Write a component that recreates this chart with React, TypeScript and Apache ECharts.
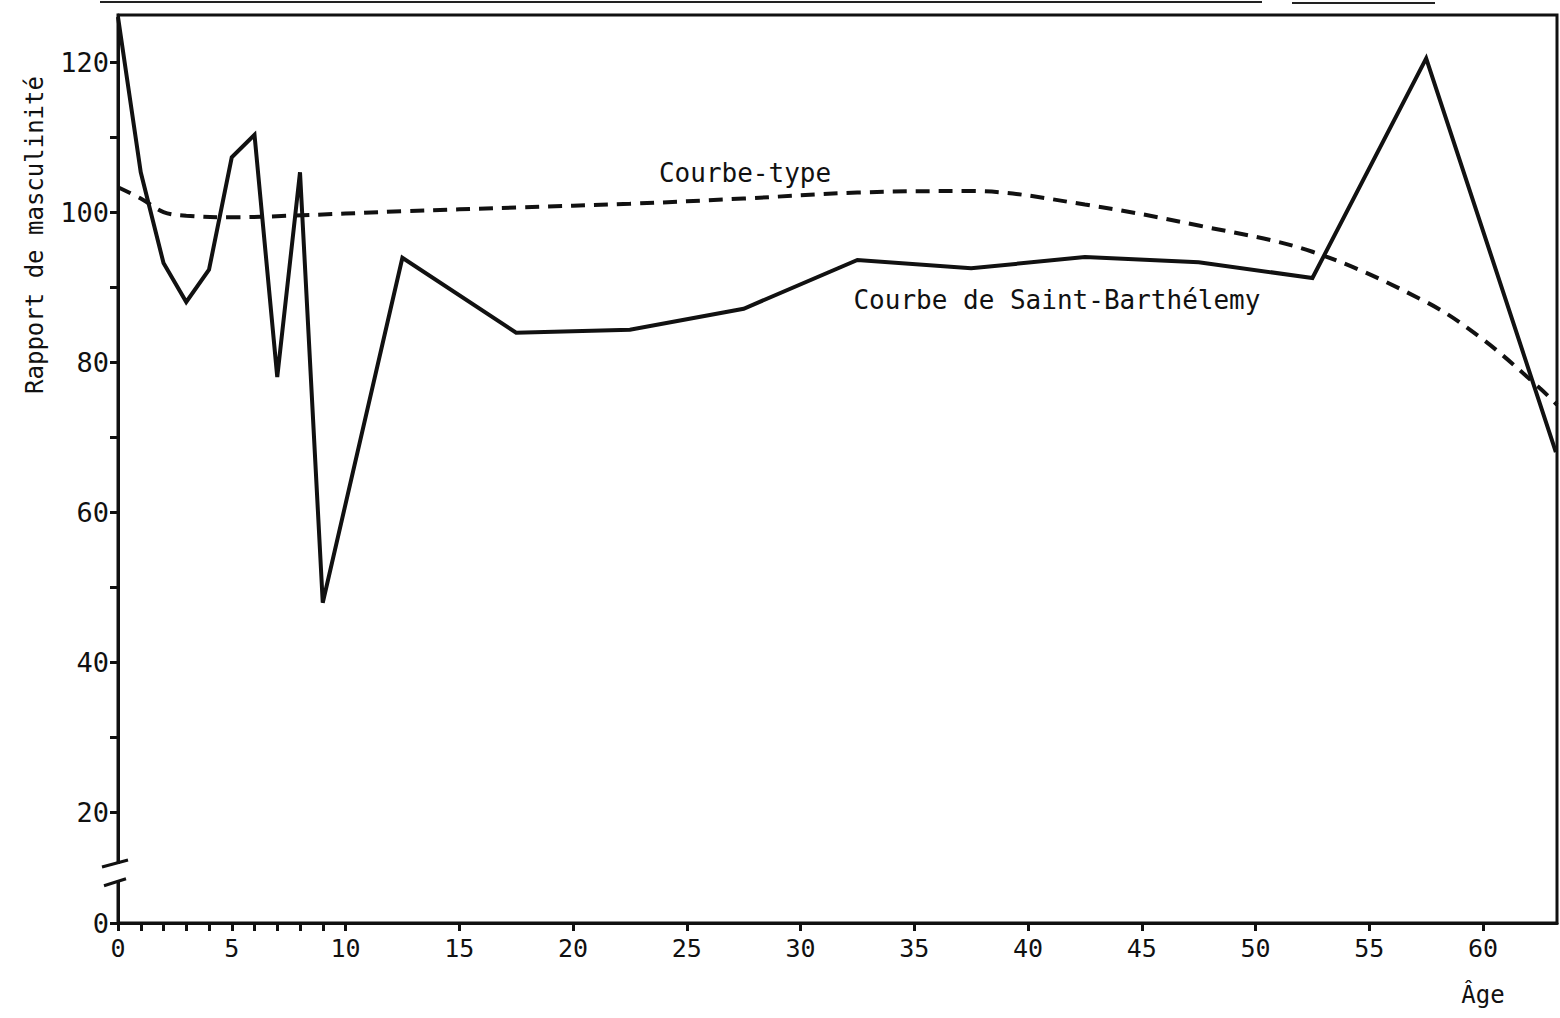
import React, { useEffect, useRef } from "react";
import * as echarts from "echarts";

// Courbe de Saint-Barthélemy (solid)
const stbAges = [0, 1, 2, 3, 4, 5, 6, 7, 8, 9, 12.5, 17.5, 22.5, 27.5, 32.5, 37.5, 42.5, 47.5, 52.5, 57.5, 63.2];
const stbValues = [126, 105.3, 93.2, 88, 92.3, 107.3, 110.3, 78, 105.3, 47.9, 93.9, 83.9, 84.3, 87.1, 93.6, 92.5, 94.0, 93.3, 91.2, 120.5, 68];

// Courbe-type (dashed)
const typeAges = [0, 1, 2, 3, 5, 7.5, 12.5, 17.5, 22.5, 27.5, 32.5, 37.5, 42.5, 47.5, 52.5, 57.5, 60, 62.5, 63.25];
const typeValues = [103.3, 101.8, 100.0, 99.5, 99.3, 99.5, 100.1, 100.6, 101.1, 101.8, 102.6, 102.8, 101.0, 98.2, 94.7, 88.0, 83.0, 76.5, 74.3];

// axes
const X_MIN = 0;
const X_MAX = 63.25;
const xTickValues = [0, 1, 2, 3, 4, 5, 6, 7, 8, 9, 10, 15, 20, 25, 30, 35, 40, 45, 50, 55, 60];
const xLabelValues = [0, 5, 10, 15, 20, 25, 30, 35, 40, 45, 50, 55, 60];

// y axis has a break between 0 and 20: the "0" position sits at Y_ZERO_POS
const Y_ZERO_POS = 5.2;
const Y_MAX = 126.27;
const yTickValues = [Y_ZERO_POS, 20, 30, 40, 50, 60, 70, 80, 90, 100, 110, 120];
const yLabelValues = [Y_ZERO_POS, 20, 40, 60, 80, 100, 120];
const BREAK_HIGH = 13.2;
const BREAK_LOW = 10.7;

// label anchors (data coordinates)
const typeLabelAt = [27.56, 105.2];
const stbLabelAt = [41.27, 88.27];

const FONT = "'DejaVu Sans Mono', monospace";

export default function App() {
  const ref = useRef<HTMLDivElement>(null);

  useEffect(() => {
    document.body.style.margin = "0";
    if (!ref.current) return;
    const chart = echarts.init(ref.current, null, { renderer: "svg" });
    const option: any = {
      animation: false,
      backgroundColor: "#ffffff",
      grid: {
        left: 118,
        top: 15,
        width: 1439,
        height: 908,
        show: true,
        borderColor: "#111",
        borderWidth: 3,
        backgroundColor: "transparent",
      },
      xAxis: {
        type: "value",
        min: X_MIN,
        max: X_MAX,
        splitLine: { show: false },
        axisLine: { show: true, onZero: false, lineStyle: { color: "#111", width: 3 } },
        axisTick: {
          show: true,
          length: 8,
          customValues: xTickValues,
          lineStyle: { color: "#111", width: 3 },
        },
        axisLabel: {
          customValues: xLabelValues,
          margin: 13,
          fontFamily: FONT,
          fontSize: 25,
          color: "#111",
          formatter: (v: number) => String(v),
        },
      },
      yAxis: {
        type: "value",
        min: Y_ZERO_POS,
        max: Y_MAX,
        splitLine: { show: false },
        axisLine: { show: true, lineStyle: { color: "#111", width: 3 } },
        axisTick: {
          show: true,
          length: 8,
          customValues: yTickValues,
          lineStyle: { color: "#111", width: 3 },
        },
        axisLabel: {
          customValues: yLabelValues,
          margin: 9,
          fontFamily: FONT,
          fontSize: 27,
          color: "#111",
          formatter: (v: number) => (v < 10 ? "0" : String(Math.round(v))),
        },
      },
      series: [
        {
          name: "Courbe-type",
          type: "line",
          data: typeAges.map((a, i) => [a, typeValues[i]]),
          smooth: 0.35,
          showSymbol: false,
          symbol: "none",
          lineStyle: { color: "#111", width: 4, type: [14, 9] },
          z: 2,
        },
        {
          name: "Courbe de Saint-Barthélemy",
          type: "line",
          data: stbAges.map((a, i) => [a, stbValues[i]]),
          showSymbol: false,
          symbol: "none",
          lineStyle: { color: "#111", width: 4, join: "miter" },
          z: 3,
        },
      ],
    };
    chart.setOption(option);

    const [axX, yHigh] = chart.convertToPixel({ gridIndex: 0 }, [0, BREAK_HIGH]);
    const [, yLow] = chart.convertToPixel({ gridIndex: 0 }, [0, BREAK_LOW]);
    const [xT, yT] = chart.convertToPixel({ gridIndex: 0 }, typeLabelAt);
    const [xS, yS] = chart.convertToPixel({ gridIndex: 0 }, stbLabelAt);

    chart.setOption({
      graphic: [
        {
          type: "rect",
          shape: { x: axX - 6, y: yHigh + 1, width: 12, height: yLow - yHigh - 2 },
          style: { fill: "#ffffff" },
          z: 100,
        },
        {
          type: "line",
          shape: { x1: axX - 16, y1: yHigh + 4, x2: axX + 10, y2: yHigh - 3 },
          style: { stroke: "#111", lineWidth: 3 },
          z: 101,
        },
        {
          type: "line",
          shape: { x1: axX - 14, y1: yLow + 4, x2: axX + 8, y2: yLow - 3 },
          style: { stroke: "#111", lineWidth: 3 },
          z: 101,
        },
        {
          type: "text",
          x: xT,
          y: yT,
          style: {
            text: "Courbe-type",
            font: `26px ${FONT}`,
            fill: "#111",
            textAlign: "center",
            textVerticalAlign: "middle",
          },
          z: 50,
        },
        {
          type: "text",
          x: xS,
          y: yS,
          style: {
            text: "Courbe de Saint-Barthélemy",
            font: `26px ${FONT}`,
            fill: "#111",
            textAlign: "center",
            textVerticalAlign: "middle",
          },
          z: 50,
        },
        {
          type: "text",
          x: 35,
          y: 235,
          rotation: Math.PI / 2,
          style: {
            text: "Rapport de masculinité",
            font: `24px ${FONT}`,
            fill: "#111",
            textAlign: "center",
            textVerticalAlign: "middle",
          },
          z: 50,
        },
        {
          type: "text",
          x: 1483,
          y: 995,
          style: {
            text: "Âge",
            font: `24px ${FONT}`,
            fill: "#111",
            textAlign: "center",
            textVerticalAlign: "middle",
          },
          z: 50,
        },
        {
          type: "line",
          shape: { x1: 100, y1: 2, x2: 1262, y2: 2 },
          style: { stroke: "#222", lineWidth: 2 },
          z: 50,
        },
        {
          type: "line",
          shape: { x1: 1292, y1: 3, x2: 1435, y2: 3 },
          style: { stroke: "#222", lineWidth: 2 },
          z: 50,
        },
      ],
    });

    return () => chart.dispose();
  }, []);

  return <div ref={ref} style={{ width: 1560, height: 1018 }} />;
}
